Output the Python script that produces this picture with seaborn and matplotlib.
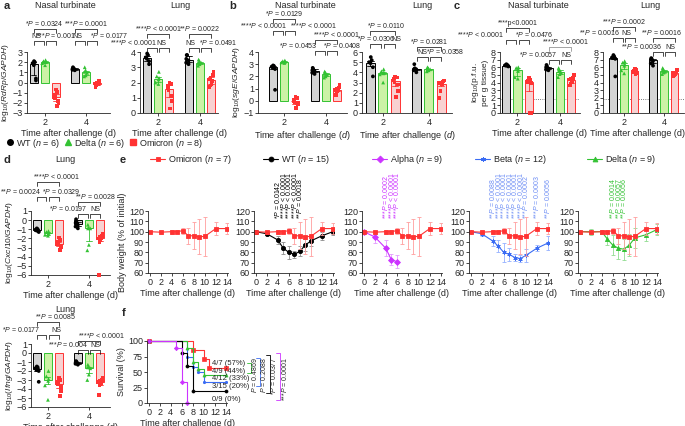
import numpy as np
import pandas as pd
import seaborn as sns
import matplotlib.pyplot as plt
import matplotlib.transforms as mtransforms
from matplotlib.lines import Line2D

# ---------------- data ----------------
days = ['2', '4']
variants = ['WT', 'Delta', 'Omicron']

# each list: [day 2 values, day 4 values]
# a  log10(RdRp/GAPDH)
a_nt_wt = [[2.1, 2.0, 1.9, 1.7, 0.4, 0.2], [1.5, 1.4, 1.35, 1.3, 1.25, 1.2]]
a_nt_de = [[2.2, 2.1, 2.05, 2.0, 1.9, 1.7], [1.5, 1.2, 1.05, 0.95, 0.7, 0.6]]
a_nt_om = [[-0.7, -0.9, -1.2, -1.4, -1.5, -1.8, -2.0, -2.3], [0.2, 0.0, -0.05, -0.1, -0.15, -0.2, -0.3, -0.5]]
a_lu_wt = [[3.9, 3.8, 3.65, 3.55, 3.4, 3.2], [3.8, 3.8, 3.55, 3.45, 3.3, 3.2]]
a_lu_de = [[2.7, 2.4, 2.3, 2.2, 2.0, 1.9], [3.5, 3.4, 3.3, 3.3, 3.2, 3.1]]
a_lu_om = [[2.0, 1.9, 1.8, 1.6, 1.5, 1.1, 0.8, 0.3], [2.7, 2.5, 2.3, 2.2, 2.1, 1.9, 1.8, 1.7]]
# b  log10(sgE/GAPDH)
b_nt_wt = [[2.9, 2.85, 2.8, 2.7, 2.6, 0.9], [2.7, 2.6, 2.5, 2.45, 2.3, 2.2]]
b_nt_de = [[3.3, 3.25, 3.2, 3.2, 3.15, 3.1], [2.4, 2.3, 2.2, 2.15, 2.0, 1.9]]
b_nt_om = [[0.3, 0.2, 0.1, 0.0, -0.1, -0.2, -0.3, -0.6], [1.3, 1.1, 1.0, 0.9, 0.85, 0.8, 0.7, 0.5]]
b_lu_wt = [[5.5, 5.2, 5.0, 4.9, 4.5, 3.6], [4.8, 4.4, 4.3, 4.3, 4.2, 4.0]]
b_lu_de = [[4.3, 4.1, 4.0, 3.9, 3.8, 3.0], [4.5, 4.4, 4.3, 4.3, 4.2, 4.1]]
b_lu_om = [[3.6, 3.5, 3.4, 3.2, 3.0, 2.8, 2.2, 1.6], [3.2, 3.1, 3.0, 2.95, 2.85, 2.8, 2.2, 1.5]]
# c  log10(p.f.u. per g tissue)
c_nt_wt = [[6.4, 6.3, 6.25, 6.2, 6.15, 6.1], [6.3, 6.1, 6.0, 5.85, 5.7, 5.6]]
c_nt_de = [[6.0, 5.9, 5.7, 5.5, 4.7, 4.5], [5.9, 5.6, 5.5, 5.3, 5.1, 4.7]]
c_nt_om = [[4.6, 4.3, 4.2, 4.1, 4.0, 3.9, 0.0, 0.0], [5.0, 4.6, 4.5, 4.4, 4.2, 4.0, 3.8, 3.6]]
c_lu_wt = [[7.6, 7.4, 7.3, 7.2, 7.1, 4.8], [7.2, 7.1, 7.0, 6.8, 6.5, 6.2]]
c_lu_de = [[6.8, 6.6, 6.4, 6.2, 5.6, 5.2], [5.9, 5.7, 5.6, 5.4, 5.3, 5.1]]
c_lu_om = [[5.8, 5.7, 5.5, 5.4, 5.4, 5.3, 5.2, 5.1], [5.6, 5.5, 5.3, 5.2, 5.2, 5.1, 5.0, 4.9]]
c_lod = 1.85
# d  log10(Cxcl10/GAPDH) and log10(Ifng/GAPDH)
d_cx_wt = [[-0.9, -1.0, -1.05, -1.15, -1.2, -1.3], [0.1, -0.2, -0.3, -0.5, -0.7, -0.9]]
d_cx_de = [[-1.2, -1.3, -1.4, -1.5, -1.6, -1.7], [-0.5, -0.8, -0.9, -0.9, -2.7, -3.3]]
d_cx_om = [[-1.9, -2.2, -2.4, -2.6, -2.6, -2.8, -3.0, -3.3], [-1.5, -1.7, -1.8, -2.0, -2.0, -2.2, -2.4, -6.0]]
d_if_wt = [[-1.5, -1.6, -1.7, -1.9, -2.0, -3.2], [-0.9, -1.0, -1.05, -1.15, -1.2, -1.3]]
d_if_de = [[-2.0, -2.6, -2.9, -3.1, -3.6, -5.2], [-1.3, -1.5, -1.6, -1.7, -2.4, -3.0]]
d_if_om = [[-2.8, -3.0, -3.2, -3.4, -3.5, -3.8, -4.2, -4.8], [-2.8, -3.0, -3.1, -3.2, -3.3, -3.5, -3.6, -4.7]]

# e  body weight (% of initial), mean and s.d.
e_days = [0, 2, 4, 5, 6, 7, 8, 9, 10, 12, 14]
omicron_bw = [100, 99.5, 100, 100, 101, 96, 96, 95, 95.5, 103, 103]
omicron_sd = [0, 1.5, 2, 1.5, 3, 8, 13, 17, 19, 6, 5]
wt_bw = [100, 98, 92, 84, 80, 78, 81, 87, 91, 96, 100]
wt_sd = [0, 1.5, 4, 6, 6, 3, 5, 6, 5, 4, 3]
alpha_days = [0, 2, 4, 5, 6]
alpha_bw = [100, 95, 84, 73, 71]
alpha_sd = [0, 6, 8, 5, 6]
beta_bw = [100, 98, 91, 86, 80, 78, 75, 74, 77, 84, 89]
beta_sd = [0, 2, 5, 6, 9, 6, 3, 3, 6, 3, 7]
delta_bw = [100, 100, 100, 93, 87, 84, 83, 87, 94, 97, 102]
delta_sd = [0, 3, 2, 6, 10, 10, 10, 11, 10, 6, 5]

wt_p_days = [4, 5, 6, 7, 8]
wt_p = ['*P = 0.0142', '****P < 0.0001', '****P < 0.0001', '****P < 0.0001', '**P = 0.0018']
alpha_p_days = [4, 5, 6]
alpha_p = ['***P = 0.0002', '****P < 0.0001', '****P < 0.0001']
beta_p_days = [4, 5, 6, 7, 8, 9, 10, 12, 14]
beta_p = ['**P = 0.0088', '****P < 0.0001', '****P < 0.0001', '****P < 0.0001', '****P < 0.0001',
          '****P < 0.0001', '***P = 0.0002', '***P = 0.0003', '**P = 0.0056']
delta_p_days = [6, 7, 8]
delta_p = ['**P = 0.0014', '**P = 0.0057', '**P = 0.0056']

# f  survival (%)
om_t, om_s = [0, 8, 10, 11, 14], [100, 85.7, 71.4, 57.1, 57.1]
wt_t, wt_s = [0, 6, 7, 8, 14], [100, 80, 60, 20, 20]
al_t, al_s = [0, 5, 6, 7], [100, 88.9, 33.3, 0]
be_t, be_s = [0, 7, 8, 9, 10, 14], [100, 75, 58.3, 50, 33.3, 33.3]
de_t, de_s = [0, 7, 8, 9, 10, 14], [100, 88.9, 66.7, 55.6, 44.4, 44.4]
f_labels = ['4/7 (57%)', '4/9 (44%)', '4/12 (33%)', '3/15 (20%)', '0/9 (0%)']
f_levels = [57.1, 44.4, 33.3, 20, 0]

# ---------------- style ----------------
sns.set_style('ticks')
plt.rcParams['font.family'] = ['Liberation Sans', 'DejaVu Sans']
plt.rcParams['mathtext.fontset'] = 'custom'
plt.rcParams['mathtext.rm'] = 'Liberation Sans'
plt.rcParams['mathtext.it'] = 'Liberation Sans:italic'
plt.rcParams['axes.linewidth'] = 0.6
plt.rcParams['xtick.major.width'] = 0.6
plt.rcParams['ytick.major.width'] = 0.6
plt.rcParams['xtick.major.size'] = 2
plt.rcParams['ytick.major.size'] = 2
plt.rcParams['xtick.major.pad'] = 1.5
plt.rcParams['ytick.major.pad'] = 1
plt.rcParams['xtick.labelsize'] = 6.5
plt.rcParams['ytick.labelsize'] = 6.5
plt.rcParams['axes.labelsize'] = 6.5
plt.rcParams['axes.labelpad'] = 1.5

RED, GREEN, BLUE, MAG = '#ff3333', '#33c233', '#3a6cf4', '#cc33ff'
bar_face = {'WT': '#d4d4d4', 'Delta': '#ccff99', 'Omicron': '#ffcaca'}
bar_edge = {'WT': 'black', 'Delta': GREEN, 'Omicron': RED}
pt_color = {'WT': 'black', 'Delta': GREEN, 'Omicron': RED}
pt_marker = {'WT': 'o', 'Delta': '^', 'Omicron': 's'}
OFF = 0.8 / 3
XLAB = 'Time after challenge (d)'

W, H = 685, 426
fig = plt.figure(figsize=(W / 100, H / 100), dpi=100)
PX = mtransforms.Affine2D().scale(1 / W, -1 / H).translate(0, 1) + fig.transFigure


def box(l, t, r, b):
    return fig.add_axes([l / W, 1 - b / H, (r - l) / W, (b - t) / H])


def fmtp(s):
    return s.replace('P', r'$\it{P}$')


def pxy(ax):
    return mtransforms.blended_transform_factory(ax.transData, PX)


def hue_index(xc):
    return int(round((xc - round(xc)) / OFF)) + 1


def comp(ax, g, kind, y, text, ha='center', dx=0.0, color='k'):
    i1, i2 = {'wo': (0, 2), 'wd': (0, 1), 'do': (1, 2)}[kind]
    x1 = g + (i1 - 1) * OFF
    x2 = g + (i2 - 1) * OFF
    if kind == 'wd':
        x2 -= 0.03
    if kind == 'do':
        x1 += 0.03
    tr = pxy(ax)
    ax.plot([x1, x1, x2, x2], [y + 3.5, y, y, y + 3.5], color=color, lw=0.5,
            transform=tr, clip_on=False)
    ax.text((x1 + x2) / 2 + dx, y - 0.8, fmtp(text), transform=tr, ha=ha, va='bottom',
            fontsize=5, clip_on=False)


def bar_panel(rect, wt, de, om, ylim, yticks, xlim, ylabel, xlabel=XLAB):
    ax = box(*rect)
    rows = []
    for v, vals in zip(variants, (wt, de, om)):
        for d, arr in zip(days, vals):
            rows += [(d, v, y) for y in arr]
    df = pd.DataFrame(rows, columns=['day', 'variant', 'value'])
    sns.barplot(data=df, x='day', y='value', hue='variant', order=days, hue_order=variants,
                estimator='median', errorbar=('pi', 50), palette=bar_face, gap=0.28,
                linewidth=0.7, capsize=0.4, err_kws={'linewidth': 0.6}, legend=False, ax=ax)
    for p in ax.patches:
        xc = p.get_x() + p.get_width() / 2
        if np.isfinite(xc):
            p.set_edgecolor(bar_edge[variants[hue_index(xc)]])
    for ln in ax.lines:
        xd = np.asarray(ln.get_xdata(), dtype=float)
        xd = xd[np.isfinite(xd)]
        if len(xd):
            ln.set_color(bar_edge[variants[hue_index(xd.mean())]])
    np.random.seed(3)
    for v in variants:
        sns.stripplot(data=df[df.variant == v], x='day', y='value', hue='variant', order=days,
                      hue_order=variants, dodge=True, jitter=0.2, marker=pt_marker[v], size=2.7,
                      palette=pt_color, linewidth=0, legend=False, ax=ax, clip_on=False, zorder=3)
    ax.set_xlim(*xlim)
    ax.set_ylim(*ylim)
    ax.set_yticks(yticks)
    ax.set_yticklabels([f'{t:g}'.replace('-', '\u2212') for t in yticks])
    ax.set_xlabel(xlabel)
    ax.set_ylabel(ylabel, fontsize=6, labelpad=1)
    sns.despine(ax=ax)
    return ax


# ---------------- a ----------------
ax = bar_panel((27, 52, 110, 113), a_nt_wt, a_nt_de, a_nt_om, (-3, 3), range(-3, 4), (-0.43, 1.58),
               r'log$_{10}$($\it{RdRp}$/$\it{GAPDH}$)')
comp(ax, 0, 'wo', 29, '*P = 0.0324')
comp(ax, 0, 'wd', 41, 'NS', dx=-0.05)
comp(ax, 0, 'do', 41, '***P = 0.001', ha='left', dx=-0.36)
comp(ax, 1, 'wo', 29, '***P = 0.0001')
comp(ax, 1, 'wd', 41, 'NS', dx=-0.06)
comp(ax, 1, 'do', 41, '*P = 0.0177', ha='left', dx=-0.06)
ax.set_xlim(-0.43, 1.58)

ax = bar_panel((140, 52, 218, 113), a_lu_wt, a_lu_de, a_lu_om, (0, 4), range(0, 5), (-0.43, 1.43), '')
comp(ax, 0, 'wo', 34, '****P < 0.0001')
comp(ax, 0, 'wd', 48, '****P < 0.0001', ha='right', dx=0.12)
comp(ax, 0, 'do', 48, 'NS', dx=-0.08)
comp(ax, 1, 'wo', 34, '**P = 0.0022')
comp(ax, 1, 'wd', 48, 'NS', dx=-0.08)
comp(ax, 1, 'do', 48, '*P = 0.0491', ha='left', dx=-0.18)
ax.set_xlim(-0.43, 1.43)

# ---------------- b ----------------
XLAB_B = r'Time after challenge ($\it{d}$)'
ax = bar_panel((258, 52, 347, 113), b_nt_wt, b_nt_de, b_nt_om, (-1, 4), range(-1, 5), (-0.62, 1.5),
               r'log$_{10}$($\it{sgE}$/$\it{GAPDH}$)', XLAB_B)
comp(ax, 0, 'wo', 19, '*P = 0.0129')
comp(ax, 0, 'wd', 31, '****P < 0.0001', ha='right', dx=0.2)
comp(ax, 0, 'do', 31, '****P < 0.0001', ha='left', dx=0.0)
comp(ax, 1, 'wo', 40, '****P < 0.0001', dx=0.25)
comp(ax, 1, 'wd', 51, '*P = 0.0453', ha='right', dx=-0.05)
comp(ax, 1, 'do', 51, '*P = 0.0408', ha='left', dx=-0.22)
ax.set_xlim(-0.62, 1.5)

ax = bar_panel((362, 52, 452, 113), b_lu_wt, b_lu_de, b_lu_om, (0, 6), range(0, 7), (-0.45, 1.5), '', XLAB_B)
comp(ax, 0, 'wo', 31, '*P = 0.0110', dx=0.08)
comp(ax, 0, 'wd', 44, '*P = 0.0306')
comp(ax, 0, 'do', 44, 'NS', dx=0.14)
comp(ax, 1, 'wo', 47, '*P = 0.0281')
comp(ax, 1, 'wd', 57, 'NS')
comp(ax, 1, 'do', 57, '*P = 0.0358', ha='left', dx=-0.22)
ax.set_xlim(-0.45, 1.5)

# ---------------- c ----------------
ax = bar_panel((500, 52, 580, 113), c_nt_wt, c_nt_de, c_nt_om, (0, 8), range(0, 9), (-0.41, 1.47),
               'log$_{10}$(p.f.u.\nper g tissue)')
ax.axhline(c_lod, color='0.3', lw=0.6, ls=':', zorder=0)
comp(ax, 0, 'wo', 28, '****p<0.0001')
comp(ax, 0, 'wd', 40, '****P < 0.0001', ha='right', dx=-0.17)
comp(ax, 0, 'do', 40, '*P = 0.0476', ha='left', dx=-0.2)
comp(ax, 1, 'wo', 47, '****P < 0.0001', dx=0.13, color='0.5')
comp(ax, 1, 'wd', 60, '*P = 0.0057', ha='right', dx=0.08)
comp(ax, 1, 'do', 60, 'NS')
ax.set_xlim(-0.41, 1.47)

ax = bar_panel((603, 52, 684, 113), c_lu_wt, c_lu_de, c_lu_om, (0, 8), range(0, 9), (-0.52, 1.5), '')
ax.axhline(c_lod, color='0.3', lw=0.6, ls=':', zorder=0)
ax.xaxis.label.set_x(0.42)
comp(ax, 0, 'wo', 27, '***P = 0.0002')
comp(ax, 0, 'wd', 38, '**P = 0.0016', ha='right', dx=0.05)
comp(ax, 0, 'do', 38, 'NS', dx=-0.08)
comp(ax, 1, 'wo', 38, '**P = 0.0016', dx=-0.06)
comp(ax, 1, 'wd', 52, '**P = 0.0036', ha='right', dx=0.1)
comp(ax, 1, 'do', 52, 'NS')
ax.set_xlim(-0.52, 1.5)

# ---------------- d ----------------
ax = bar_panel((31, 211, 110, 275), d_cx_wt, d_cx_de, d_cx_om, (-6, 1), range(-6, 2), (-0.4, 1.5),
               r'log$_{10}$($\it{Cxcl10}$/$\it{GAPDH}$)')
comp(ax, 0, 'wo', 182, '****P < 0.0001', dx=0.2)
comp(ax, 0, 'wd', 197, '**P = 0.0024', ha='right', dx=0.0)
comp(ax, 0, 'do', 197, '*P = 0.0329', ha='left', dx=-0.28)
comp(ax, 1, 'wo', 202, '**P = 0.0028', dx=0.15)
comp(ax, 1, 'wd', 214, '*P = 0.0197', ha='right', dx=0.1)
comp(ax, 1, 'do', 214, 'NS')
ax.set_xlim(-0.4, 1.5)

ax = bar_panel((31, 344, 110, 407), d_if_wt, d_if_de, d_if_om, (-6, 1), range(-6, 2), (-0.4, 1.5),
               r'log$_{10}$($\it{Ifng}$/$\it{GAPDH}$)')
comp(ax, 0, 'wo', 322, '**P = 0.0085', dx=0.2)
comp(ax, 0, 'wd', 335, '*P = 0.0177', ha='right', dx=-0.02)
comp(ax, 0, 'do', 335, 'NS', dx=0.05)
comp(ax, 1, 'wo', 341, '****P < 0.0001', dx=0.3)
comp(ax, 1, 'wd', 350, '***P = 0.004', ha='right', dx=0.12)
comp(ax, 1, 'do', 350, 'NS')
ax.set_xlim(-0.4, 1.5)

# ---------------- e ----------------
e_series = [
    (None, None, None, None, None, None),
    (e_days, wt_bw, wt_sd, 'black', '#8c8c8c', 'o'),
    (alpha_days, alpha_bw, alpha_sd, MAG, '#e39aff', 'D'),
    (e_days, beta_bw, beta_sd, BLUE, '#93b0ff', (6, 2, 0)),
    (e_days, delta_bw, delta_sd, GREEN, '#8fdc8f', '^'),
]
e_annot = [None, (wt_p_days, wt_p, 'black'), (alpha_p_days, alpha_p, MAG),
           (beta_p_days, beta_p, '#6f8ff5'), (delta_p_days, delta_p, GREEN)]


def weight_line(ax, x, y, sd, color, ecolor, marker):
    ax.errorbar(x, y, yerr=sd, fmt='none', ecolor=ecolor, elinewidth=0.6, capsize=1.3, capthick=0.6)
    sns.lineplot(x=x, y=y, color=color, marker=marker, markersize=3, markeredgewidth=0.6,
                 markeredgecolor=color, linewidth=0.8, ax=ax)


for i, l in enumerate([148, 254, 362, 469, 578]):
    ax = box(l, 211, l + 80, 273)
    if i > 0:
        x, y, sd, c, ec, m = e_series[i]
        weight_line(ax, x, y, sd, c, ec, m)
    weight_line(ax, e_days, omicron_bw, omicron_sd, RED, '#ff9e9e', 's')
    if i > 0:
        pdays, ptxt, pc = e_annot[i]
        for d, s in zip(pdays, ptxt):
            ax.text(d, 219, fmtp(s), transform=pxy(ax), rotation=90, ha='center', va='bottom',
                    fontsize=5, color=pc, clip_on=False)
    ax.set_xlim(-0.3, 14.2)
    ax.set_ylim(60, 120)
    ax.set_xticks(range(0, 15, 2))
    ax.set_yticks(range(60, 121, 10))
    ax.set_xlabel(XLAB)
    ax.set_ylabel('Body weight (% of initial)' if i == 0 else '')
    sns.despine(ax=ax)

# ---------------- f ----------------
ax = box(147, 341, 227, 403)
for t, s, c, m in [(om_t, om_s, RED, 's'), (be_t, be_s, BLUE, (6, 2, 0)), (de_t, de_s, GREEN, '^'),
                   (wt_t, wt_s, 'black', 'o'), (al_t, al_s, MAG, 'D')]:
    sns.lineplot(x=t, y=s, drawstyle='steps-post', color=c, marker=m, markersize=2.2,
                 markeredgewidth=0.5, markeredgecolor=c, linewidth=0.8, ax=ax, clip_on=False)
for lab, lev in zip(f_labels, f_levels):
    ax.text(11.5, lev + 6, lab, fontsize=5.5, va='center', ha='left')
ax.set_xlim(-0.3, 14.2)
ax.set_ylim(0, 100)
ax.set_xticks(range(0, 15, 2))
ax.set_yticks([0, 25, 50, 75, 100])
ax.set_xlabel(XLAB)
ax.set_ylabel('Survival (%)')
sns.despine(ax=ax)

for (xl, xr, yt, yb, c, tx, txt) in [(247, 251, 363, 373, GREEN, 254.5, 'P = 0.4869'),
                                     (256, 260, 358, 386, BLUE, 264, 'P = 0.2088'),
                                     (266, 270, 355, 393, 'black', 274, '*P = 0.0377'),
                                     (276, 280, 353, 400, MAG, 284.5, '***P = 0.0001')]:
    fig.add_artist(Line2D([xl, xr, xr, xl], [yt, yt, yb, yb], color=c, lw=0.6, transform=PX))
    fig.text(tx, 357, fmtp(txt), transform=PX, rotation=90, ha='center', va='top', fontsize=5)

# ---------------- legends, titles, panel letters ----------------
for x0, v, n in [(5.5, 'WT', 6), (63.5, 'Delta', 6), (128.5, 'Omicron', 8)]:
    h = Line2D([], [], ls='none', marker=pt_marker[v], color=pt_color[v], ms=4)
    fig.legend([h], [v + r' ($\it{n}$ = %d)' % n], loc='center left',
               bbox_to_anchor=(x0 / W, 1 - 143 / H), frameon=False, fontsize=6.5,
               handletextpad=0.2, handlelength=1.0, borderaxespad=0, borderpad=0)

for x0, c, m, lab, n in [(150, RED, 's', 'Omicron', 7), (263, 'black', 'o', 'WT', 15),
                         (372, MAG, 'D', 'Alpha', 9), (475, BLUE, (6, 2, 0), 'Beta', 12),
                         (587, GREEN, '^', 'Delta', 9)]:
    h = Line2D([], [], color=c, marker=m, ms=3.5, lw=0.8, markeredgewidth=0.6, markeredgecolor=c)
    fig.legend([h], [lab + r' ($\it{n}$ = %d)' % n], loc='center left',
               bbox_to_anchor=(x0 / W, 1 - 160 / H), frameon=False, fontsize=6.5,
               handlelength=1.7, handletextpad=0.25, borderaxespad=0, borderpad=0)

for x, y, s in [(65, 6, 'Nasal turbinate'), (180, 6, 'Lung'), (305, 6, 'Nasal turbinate'),
                (422, 6, 'Lung'), (538, 6, 'Nasal turbinate'), (650, 6, 'Lung'),
                (65, 160, 'Lung'), (65, 309, 'Lung')]:
    fig.text(x, y, s, transform=PX, ha='center', va='center', fontsize=6.5)

for x, y, s in [(4, 6, 'a'), (229, 6, 'b'), (454, 6, 'c'), (4, 160, 'd'), (120, 160, 'e'),
                (122, 313, 'f')]:
    fig.text(x, y, s, transform=PX, ha='left', va='center', fontsize=8, fontweight='bold')

fig.savefig('out.png', dpi=100)
